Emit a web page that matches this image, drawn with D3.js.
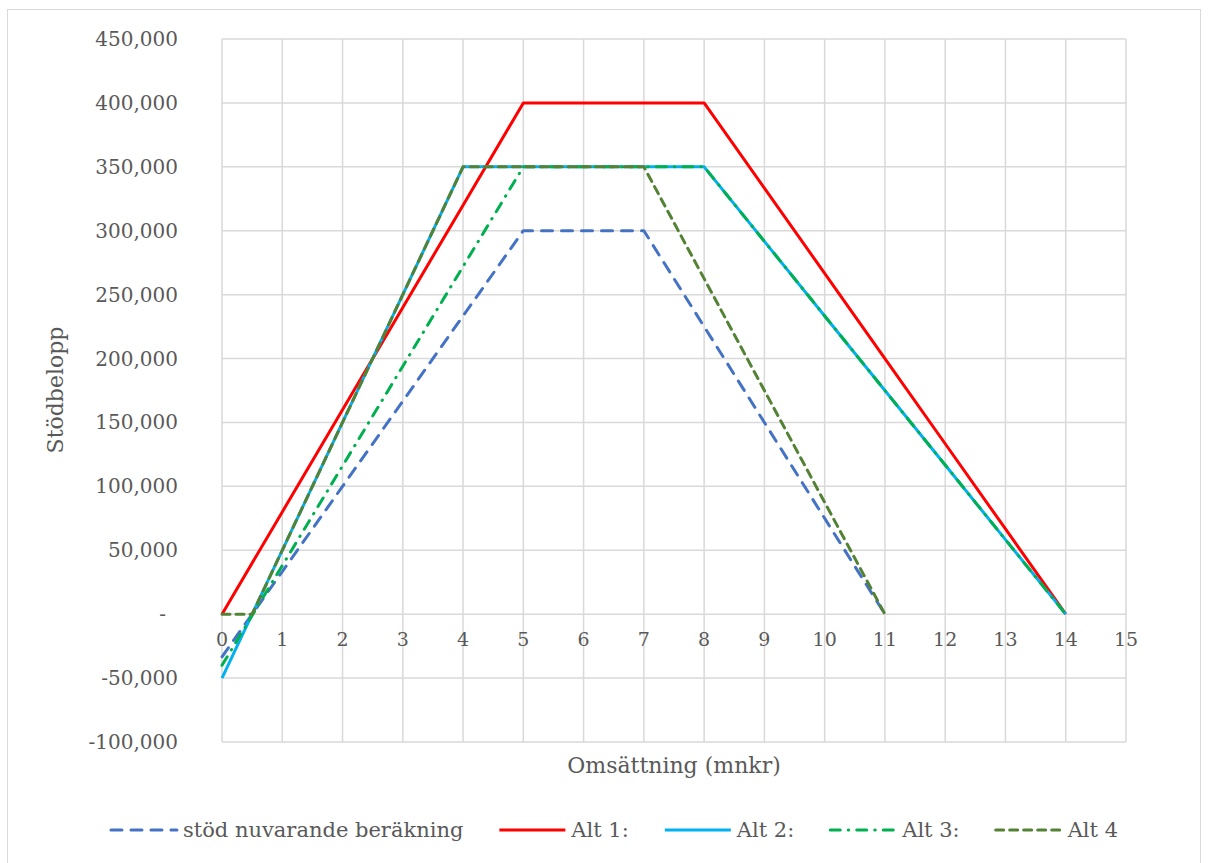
<!DOCTYPE html>
<html lang="sv">
<head>
<meta charset="UTF-8">
<title>Stödbelopp</title>
<script src="https://cdnjs.cloudflare.com/ajax/libs/d3/7.8.5/d3.min.js"></script>
<style>
    body { margin: 0; background: #fff; }
    svg { display: block; font-family: "DejaVu Serif", serif; }
</style>
</head>
<body>
<svg id="chart" width="1209" height="863"></svg>
<script>
    // data (x = omsättning mnkr, y = stödbelopp kr)
    const stodX  = [0, 1, 2, 3, 4, 5, 6, 7, 8, 9, 10, 11];
    const stodY  = [-33333, 33333, 100000, 166667, 233333, 300000, 300000, 300000, 225000, 150000, 75000, 0];
    const alt1X  = [0, 1, 2, 3, 4, 5, 6, 7, 8, 9, 10, 11, 12, 13, 14];
    const alt1Y  = [0, 80000, 160000, 240000, 320000, 400000, 400000, 400000, 400000, 333333, 266667, 200000, 133333, 66667, 0];
    const alt2X  = [0, 1, 2, 3, 4, 5, 6, 7, 8, 9, 10, 11, 12, 13, 14];
    const alt2Y  = [-50000, 50000, 150000, 250000, 350000, 350000, 350000, 350000, 350000, 291667, 233333, 175000, 116667, 58333, 0];
    const alt3X  = [0, 1, 2, 3, 4, 5, 6, 7, 8, 9, 10, 11, 12, 13, 14];
    const alt3Y  = [-40000, 38000, 116000, 194000, 272000, 350000, 350000, 350000, 350000, 291667, 233333, 175000, 116667, 58333, 0];
    const alt4X  = [0, 0.5, 1, 2, 3, 4, 5, 6, 7, 8, 9, 10, 11];
    const alt4Y  = [0, 0, 50000, 150000, 250000, 350000, 350000, 350000, 350000, 262500, 175000, 87500, 0];

    const seriesNames = ["stöd nuvarande beräkning", "Alt 1:", "Alt 2:", "Alt 3:", "Alt 4"];
    const xTicks = d3.range(0, 16);
    const yTicks = d3.range(-100000, 450001, 50000);

    const series = [
        { name: seriesNames[0], x: stodX, y: stodY, color: "#4472C4", dash: "11,9" },
        { name: seriesNames[1], x: alt1X, y: alt1Y, color: "#FF0000", dash: null },
        { name: seriesNames[2], x: alt2X, y: alt2Y, color: "#00B0F0", dash: null },
        { name: seriesNames[3], x: alt3X, y: alt3Y, color: "#00B050", dash: "10,8,0.5,8" },
        { name: seriesNames[4], x: alt4X, y: alt4Y, color: "#548235", dash: "8,6" }
    ];

    const svg = d3.select("#chart");
    const textColor = "#595959";
    const gridColor = "#d9d9d9";

    // outer chart border
    svg.append("rect")
        .attr("x", 7.5).attr("y", 9.5)
        .attr("width", 1193).attr("height", 870)
        .attr("fill", "none").attr("stroke", gridColor).attr("stroke-width", 1);

    const plot = { left: 222, right: 1126, top: 39, bottom: 742 };

    const x = d3.scaleLinear().domain([0, 15]).range([plot.left, plot.right]);
    const y = d3.scaleLinear().domain([-100000, 450000]).range([plot.bottom, plot.top]);

    // gridlines
    svg.append("g").selectAll("line")
        .data(yTicks).enter().append("line")
        .attr("x1", plot.left).attr("x2", plot.right)
        .attr("y1", d => y(d)).attr("y2", d => y(d))
        .attr("stroke", gridColor).attr("stroke-width", 1.5);

    svg.append("g").selectAll("line")
        .data(xTicks).enter().append("line")
        .attr("x1", d => x(d)).attr("x2", d => x(d))
        .attr("y1", plot.top).attr("y2", plot.bottom)
        .attr("stroke", gridColor).attr("stroke-width", 1.5);

    // y tick labels (plain hyphen for negatives, "-" for zero)
    const fmt = d3.format(",");
    svg.append("g").selectAll("text")
        .data(yTicks).enter().append("text")
        .attr("x", d => d === 0 ? 166 : 178)
        .attr("y", d => y(d))
        .attr("dy", "0.35em")
        .attr("text-anchor", "end")
        .attr("font-size", 20)
        .attr("fill", textColor)
        .text(d => d === 0 ? "-" : fmt(d).replace("\u2212", "-"));

    // x tick labels sit under the zero line
    svg.append("g").selectAll("text")
        .data(xTicks).enter().append("text")
        .attr("x", d => x(d))
        .attr("y", y(0) + 32)
        .attr("text-anchor", "middle")
        .attr("font-size", 19)
        .attr("fill", textColor)
        .text(d => d);

    // axis titles
    svg.append("text")
        .attr("x", (plot.left + plot.right) / 2)
        .attr("y", 773)
        .attr("text-anchor", "middle")
        .attr("font-size", 22)
        .attr("fill", textColor)
        .text("Omsättning (mnkr)");

    svg.append("text")
        .attr("transform", "translate(63,390) rotate(-90)")
        .attr("text-anchor", "middle")
        .attr("font-size", 22)
        .attr("fill", textColor)
        .text("Stödbelopp");

    // lines
    const line = d3.line().x(d => x(d[0])).y(d => y(d[1]));
    svg.append("g").selectAll("path")
        .data(series).enter().append("path")
        .attr("d", s => line(s.x.map((v, i) => [v, s.y[i]])))
        .attr("fill", "none")
        .attr("stroke", s => s.color)
        .attr("stroke-width", 3)
        .attr("stroke-linejoin", "round")
        .attr("stroke-linecap", s => s.dash ? "round" : "butt")
        .attr("stroke-dasharray", s => s.dash);

    // legend, laid out left to right and centred
    const legend = svg.append("g");
    const sampleW = 66, textGap = 6, itemGap = 36, legendY = 830;
    const items = legend.selectAll("g").data(series).enter().append("g");
    items.append("line")
        .attr("x1", 0).attr("x2", sampleW)
        .attr("y1", 0).attr("y2", 0)
        .attr("stroke", s => s.color)
        .attr("stroke-width", 3)
        .attr("stroke-linecap", s => s.dash ? "round" : "butt")
        .attr("stroke-dasharray", s => s.dash);
    items.append("text")
        .attr("x", sampleW + textGap)
        .attr("dy", "0.35em")
        .attr("font-size", 21)
        .attr("fill", textColor)
        .text(s => s.name);

    let cursor = 0;
    items.each(function () {
        const w = sampleW + textGap + this.querySelector("text").getComputedTextLength();
        d3.select(this).attr("transform", `translate(${cursor},0)`);
        cursor += w + itemGap;
    });
    const total = cursor - itemGap;
    legend.attr("transform", `translate(${(1209 - total) / 2 + 10},${legendY})`);
</script>
</body>
</html>
